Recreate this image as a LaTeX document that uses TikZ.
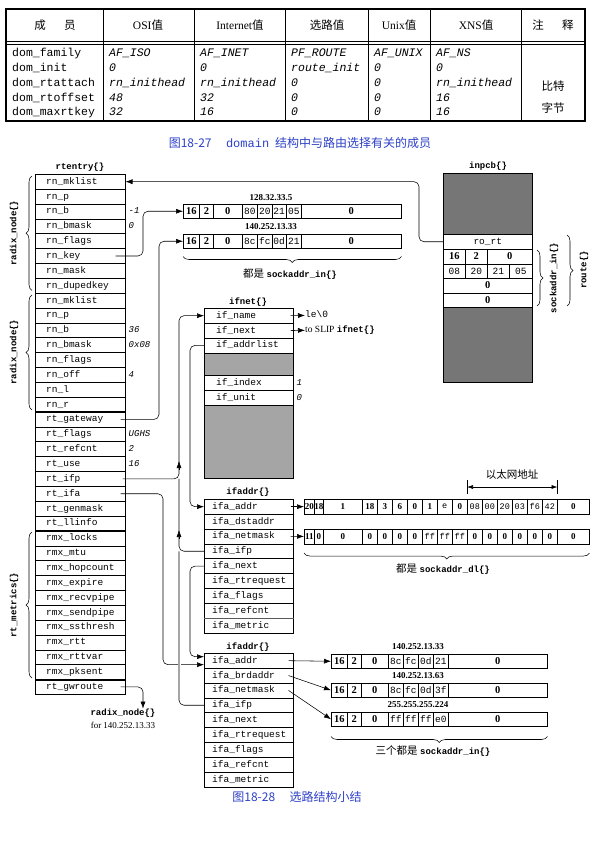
\documentclass[tikz,border=0pt]{standalone}
\usepackage{fontspec}
\setmainfont{Liberation Serif}
\setmonofont{Liberation Mono}
\newfontfamily\cjk{Noto Sans CJK SC}
\usetikzlibrary{arrows.meta,calc,decorations.pathreplacing}
\definecolor{capblue}{RGB}{45,65,200}
\definecolor{shadeA}{RGB}{118,118,118}
\definecolor{shadeB}{RGB}{165,165,165}
\newcommand\ftt{\fontsize{9.5}{11}\ttfamily}
\newcommand\fttb{\fontsize{9}{11}\ttfamily\bfseries}
\newcommand\hx{\fontsize{9.5}{11}\ttfamily\mdseries}
\newcommand\hxs{\fontsize{8.5}{10}\ttfamily\mdseries}
\tikzset{
  rowbox/.style={draw, line width=0.5pt, minimum height=14.86pt, inner sep=0pt, anchor=north west},
  rowtxt/.style={anchor=west, inner sep=0pt, font=\ftt, text height=6.5pt, text depth=1.5pt},
  valtxt/.style={anchor=west, inner sep=0pt, font=\fontsize{9}{11}\ttfamily\itshape, text height=6.5pt, text depth=1.5pt},
  ttl/.style={font=\fttb, inner sep=0pt},
  conn/.style={line width=0.55pt, rounded corners=5pt},
  arr/.style={-{Latex[length=7pt,width=5pt]}},
  cell/.style={draw, line width=0.5pt, inner sep=0pt, font=\fontsize{10.5}{12}\selectfont\bfseries},
  brc/.style={decorate, decoration={brace, amplitude=6pt}, line width=0.55pt},
  shadeboxA/.style={draw, line width=0.5pt, fill=shadeA, inner sep=0pt, anchor=north west, minimum width=89pt},
  shadeboxB/.style={draw, line width=0.5pt, fill=shadeB, inner sep=0pt, anchor=north west, minimum width=89pt},
  tbm/.style={anchor=base west, inner sep=0pt, font=\fontsize{11.5}{13}\ttfamily},
  tbi/.style={anchor=base west, inner sep=0pt, font=\fontsize{11.5}{13}\ttfamily\itshape},
  hdr/.style={inner sep=0pt, font=\fontsize{11.5}{13}\selectfont},
  ipl/.style={inner sep=0pt, font=\fontsize{9}{10}\selectfont\bfseries},
}
\newcommand\cellrow[5][]{%
  \foreach \xa/\xb/\tx [count=\k] in {#5}{%
    \pgfmathsetmacro\cw{\xb-\xa}%
    \node[cell,#1,minimum width=\cw pt,minimum height=#4pt,anchor=north west] (#2\k) at (\xa,#3) {\tx};
  }}
\begin{document}
\begin{tikzpicture}[x=1pt,y=-1pt]
\useasboundingbox (0,0) rectangle (595,842);
\fill[white] (0,0) rectangle (595,842);

% ---------------- table ----------------
\draw[line width=1.1pt] (6,9) rectangle (585,121);
\draw[line width=0.5pt] (6,41) -- (585,41) (6,44) -- (585,44);
\foreach \x in {103,194,285,368,430,521} \draw[line width=0.6pt] (\x,9) -- (\x,121);
\node[hdr] (h1) at (55,25) {\cjk 成\hspace{1.6em}员};
\node[hdr] (h2) at (148,25) {OSI{\cjk 值}};
\node[hdr] (h3) at (240,25) {Internet{\cjk 值}};
\node[hdr] (h4) at (327,25) {\cjk 选路值};
\node[hdr] (h5) at (399,25) {Unix{\cjk 值}};
\node[hdr] (h6) at (476,25) {XNS{\cjk 值}};
\node[hdr] (h7) at (553,25) {\cjk 注\hspace{1.6em}释};
\foreach \tx [count=\i] in {dom\_family,dom\_init,dom\_rtattach,dom\_rtoffset,dom\_maxrtkey}
  \node[tbm] (ta\i) at (12,{57+(\i-1)*14.7}) {\tx};
\foreach \tx [count=\i] in {AF\_ISO,0,rn\_inithead,48,32}
  \node[tbi] (tb\i) at (109,{57+(\i-1)*14.7}) {\tx};
\foreach \tx [count=\i] in {AF\_INET,0,rn\_inithead,32,16}
  \node[tbi] (tc\i) at (200,{57+(\i-1)*14.7}) {\tx};
\foreach \tx [count=\i] in {PF\_ROUTE,route\_init,0,0,0}
  \node[tbi] (td\i) at (291,{57+(\i-1)*14.7}) {\tx};
\foreach \tx [count=\i] in {AF\_UNIX,0,0,0,0}
  \node[tbi] (te\i) at (374,{57+(\i-1)*14.7}) {\tx};
\foreach \tx [count=\i] in {AF\_NS,0,rn\_inithead,16,16}
  \node[tbi] (tf\i) at (436,{57+(\i-1)*14.7}) {\tx};
\node[hdr] (tg1) at (553,86) {\cjk 比特};
\node[hdr] (tg2) at (553,108) {\cjk 字节};
\node[anchor=base, text=capblue, inner sep=0pt, font=\fontsize{12}{14}\selectfont] (cap1) at (300,148)
  {{\cjk 图18-27}\hspace{1.2em}{\ttfamily domain}\hspace{0.5em}{\cjk 结构中与路由选择有关的成员}};

% ---------------- rtentry ----------------
\node[ttl] (trt) at (80,167) {rtentry\{\}};
\foreach \tx [count=\i] in {rn\_mklist,rn\_p,rn\_b,rn\_bmask,rn\_flags,rn\_key,rn\_mask,rn\_dupedkey,
  rn\_mklist,rn\_p,rn\_b,rn\_bmask,rn\_flags,rn\_off,rn\_l,rn\_r,
  rt\_gateway,rt\_flags,rt\_refcnt,rt\_use,rt\_ifp,rt\_ifa,rt\_genmask,rt\_llinfo,
  rmx\_locks,rmx\_mtu,rmx\_hopcount,rmx\_expire,rmx\_recvpipe,rmx\_sendpipe,rmx\_ssthresh,rmx\_rtt,rmx\_rttvar,rmx\_pksent,
  rt\_gwroute}{
  \node[rowbox, minimum width=90pt] (r\i) at (35,{174+(\i-1)*14.86}) {};
  \node[rowtxt] (rt\i) at ([xshift=11pt]r\i.west) {\tx};
}
\foreach \k in {8,16,24,34} \draw[line width=1.6pt] (r\k.south west) -- (r\k.south east);
\foreach \k/\v in {3/-1,4/0,11/36,12/0x08,14/4,18/UGHS,19/2,20/16}
  \node[valtxt] (v\k) at ([xshift=3pt]r\k.east) {\v};

\draw[brc] (32,290.5) -- (32,176);
\draw[brc] (32,410) -- (32,295);
\draw[brc] (32,678) -- (32,532);
\node[ttl, rotate=90] (lrn1) at (14,233) {radix\_node\{\}};
\node[ttl, rotate=90] (lrn2) at (14,352) {radix\_node\{\}};
\node[ttl, rotate=90] (lrm) at (14,605) {rt\_metrics\{\}};

\node[ttl] (gw) at (123,713) {radix\_node\{\}};
\node[inner sep=0pt, font=\fontsize{9}{11}\selectfont] (gwf) at (123,725) {for 140.252.13.33};

% ---------------- top sockaddr_in ----------------
\node[ipl] (ipa) at (271,198) {128.32.33.5};
\node[ipl] (ipb) at (271,227) {140.252.13.33};
\cellrow{saA}{204}{14}{183/199.3/16, 199.3/213.3/2, 213.3/241.7/0, 241.7/257.3/{\hx 80}, 257.3/271.7/{\hx 20}, 271.7/286/{\hx 21}, 286/301/{\hx 05}, 301/401/0}
\cellrow{saB}{234}{14}{183/199.3/16, 199.3/213.3/2, 213.3/241.7/0, 241.7/257.3/{\hx 8c}, 257.3/271.7/{\hx fc}, 271.7/286/{\hx 0d}, 286/301/{\hx 21}, 301/401/0}
\draw[brc] ($(saB8.south east)+(0,8)$) -- ($(saB1.south west)+(0,8)$);
\node[inner sep=0pt] (bsa) at (290,274) {{\cjk\fontsize{10.5}{12}\selectfont 都是} {\fttb sockaddr\_in\{\}}};

% ---------------- inpcb ----------------
\node[ttl] (tpcb) at (488,166) {inpcb\{\}};
\node[shadeboxA, minimum height=61pt] (pcbt) at (443,173) {};
\node[rowbox, minimum width=89pt, minimum height=15pt, font=\ftt] (ro) at (443,234) {ro\_rt};
\cellrow{pa}{249}{14.5}{443/465/16, 465/487/2, 487/532/0}
\cellrow{pb}{263.5}{14.5}{443/465/{\hx 08}, 465/487/{\hx 20}, 487/509/{\hx 21}, 509/532/{\hx 05}}
\cellrow{pc}{278}{14.5}{443/532/0}
\cellrow{pd}{292.5}{14.5}{443/532/0}
\node[shadeboxA, minimum height=75pt] (pcbb) at (443,307) {};
\draw[brc] (537,250) -- (537,306);
\draw[brc] (567,235) -- (567,306);
\node[ttl, rotate=90] (lsin) at (554,278) {sockaddr\_in\{\}};
\node[ttl, rotate=90] (lrte) at (584,270) {route\{\}};

% ---------------- ifnet ----------------
\node[ttl] (tifn) at (248,302) {ifnet\{\}};
\foreach \tx [count=\i] in {if\_name,if\_next,if\_addrlist}{
  \node[rowbox, minimum width=89pt] (n\i) at (204,{308+(\i-1)*14.86}) {};
  \node[rowtxt] (nt\i) at ([xshift=12pt]n\i.west) {\tx};
}
\node[shadeboxB, minimum height=22.4pt] (ns1) at (204,352.6) {};
\foreach \tx [count=\i from 4] in {if\_index,if\_unit}{
  \node[rowbox, minimum width=89pt] (n\i) at (204,{375+(\i-4)*14.86}) {};
  \node[rowtxt] (nt\i) at ([xshift=12pt]n\i.west) {\tx};
}
\node[shadeboxB, minimum height=73.3pt] (ns2) at (204,404.7) {};
\node[valtxt] (vn4) at ([xshift=3pt]n4.east) {1};
\node[valtxt] (vn5) at ([xshift=3pt]n5.east) {0};
\node[rowtxt] (le) at (305,315.4) {le\textbackslash0};
\node[anchor=west, inner sep=0pt, font=\fontsize{9.5}{11}\selectfont] (slip) at (305,330.3) {to SLIP {\fttb ifnet\{\}}};

% ---------------- ifaddr #1 ----------------
\node[ttl] (tia1) at (248,492) {ifaddr\{\}};
\foreach \tx [count=\i] in {ifa\_addr,ifa\_dstaddr,ifa\_netmask,ifa\_ifp,ifa\_next,ifa\_rtrequest,ifa\_flags,ifa\_refcnt,ifa\_metric}{
  \node[rowbox, minimum width=89pt] (a\i) at (204,{499+(\i-1)*14.86}) {};
  \node[rowtxt] (at\i) at ([xshift=8pt]a\i.west) {\tx};
}
\draw[line width=1.4pt, gray!70!black] (a8.south west) -- (a8.south east);

\cellrow[font=\fontsize{9}{10}\selectfont\bfseries]{dA}{499}{14.86}{304/314/20, 314/323/18, 323/362/1, 362/377/18, 377/392/3, 392/407/6, 407/422/0, 422/437/1, 437/452/{\hxs e}, 452/467/0, 467/482/{\hxs 08}, 482/497/{\hxs 00}, 497/512/{\hxs 20}, 512/527/{\hxs 03}, 527/542/{\hxs f6}, 542/557/{\hxs 42}, 557/589/0}
\cellrow[font=\fontsize{9}{10}\selectfont\bfseries]{dB}{528.7}{14.86}{304/314/11, 314/323/0, 323/362/0, 362/377/0, 377/392/0, 392/407/0, 407/422/0, 422/437/{\hxs ff}, 437/452/{\hxs ff}, 452/467/{\hxs ff}, 467/482/0, 482/497/0, 497/512/0, 512/527/0, 527/542/0, 542/557/0, 557/589/0}
\draw[{Latex[length=6pt,width=4pt]}-{Latex[length=6pt,width=4pt]}, line width=0.55pt] ($(dA11.north west)+(0,-12)$) -- ($(dA16.north east)+(0,-12)$);
\draw[line width=0.55pt] ($(dA11.north west)+(0,-19)$) -- ($(dA11.north west)+(0,-5)$);
\draw[line width=0.55pt] ($(dA16.north east)+(0,-19)$) -- ($(dA16.north east)+(0,-5)$);
\node[inner sep=0pt, font=\fontsize{10.5}{12}\selectfont] (eth) at (512,475) {\cjk 以太网地址};
\draw[brc] ($(dB17.south east)+(0,9)$) -- ($(dB1.south west)+(0,9)$);
\node[inner sep=0pt] (bdl) at (443,569) {{\cjk\fontsize{10.5}{12}\selectfont 都是} {\fttb sockaddr\_dl\{\}}};

% ---------------- ifaddr #2 ----------------
\node[ttl] (tia2) at (248,647) {ifaddr\{\}};
\foreach \tx [count=\i] in {ifa\_addr,ifa\_brdaddr,ifa\_netmask,ifa\_ifp,ifa\_next,ifa\_rtrequest,ifa\_flags,ifa\_refcnt,ifa\_metric}{
  \node[rowbox, minimum width=89pt] (b\i) at (204,{653+(\i-1)*14.86}) {};
  \node[rowtxt] (bt\i) at ([xshift=8pt]b\i.west) {\tx};
}
\node[ipl] (ipc) at (418,647) {140.252.13.33};
\node[ipl] (ipd) at (418,676) {140.252.13.63};
\node[ipl] (ipe) at (418,704.5) {255.255.255.224};
\cellrow{iA}{654}{14}{331/347/16, 347/361/2, 361/388/0, 388/403/{\hx 8c}, 403/418/{\hx fc}, 418/433/{\hx 0d}, 433/448/{\hx 21}, 448/547/0}
\cellrow{iB}{683}{14}{331/347/16, 347/361/2, 361/388/0, 388/403/{\hx 8c}, 403/418/{\hx fc}, 418/433/{\hx 0d}, 433/448/{\hx 3f}, 448/547/0}
\cellrow{iC}{712}{14}{331/347/16, 347/361/2, 361/388/0, 388/403/{\hx ff}, 403/418/{\hx ff}, 418/433/{\hx ff}, 433/448/{\hx e0}, 448/547/0}
\draw[brc] ($(iC8.south east)+(0,10)$) -- ($(iC1.south west)+(0,10)$);
\node[inner sep=0pt] (bin) at (433,751) {{\cjk\fontsize{10.5}{12}\selectfont 三个都是} {\fttb sockaddr\_in\{\}}};

\node[anchor=base, text=capblue, inner sep=0pt, font=\fontsize{12}{14}\selectfont] (cap2) at (297,801)
  {{\cjk 图18-28}\hspace{1.2em}{\cjk 选路结构小结}};

% ---------------- connectors ----------------
\coordinate (xA) at (419,0);
\coordinate (xB) at (143,0);
\coordinate (xC) at (159,0);
\coordinate (xD) at (179,0);
\coordinate (xE) at (190,0);
\coordinate (xF) at (163,0);
\draw[conn,arr] (ro.west) -| (xA |- r1.east) -- (r1.east);
\draw[conn,arr] ($(r6.east)+(-10,0)$) -| (xB |- saA1.west) -- (saA1.west);
\draw[conn,arr] ($(r17.east)+(-5,0)$) -| (xC |- saB1.west) -- (saB1.west);
\draw[conn,arr] ($(r21.east)+(-3,0)$) -| (xD |- n1.west) -- (n1.west);
\draw[conn] (a4.west) -| (xD |- r21.east);
\draw[arr, line width=0.55pt] (179,470) -- (179,461);
\draw[arr, line width=0.55pt] (179,539) -- (179,530);
\draw[conn,arr] (n3.west) -| (xE |- a1.west) -- (a1.west);
\draw[conn,arr] (a5.west) -| ($(xE |- b1.west)+(0,-4)$) -- ($(b1.west)+(0,-4)$);
\draw[conn,arr] ($(r22.east)+(-5,0)$) -| ($(xF |- b1.west)+(0,4)$) -- ($(b1.west)+(0,4)$);
\draw[white, line width=3pt] (179,657) -- (179,671);
\draw[conn] (b4.west) -| (xD |- a4.west);
\draw[conn,arr] ($(r35.east)+(-5,0)$) -| ([xshift=20pt]gw.north);
\draw[arr, line width=0.55pt] ($(n1.east)+(-3,0)$) -- (le.west);
\draw[arr, line width=0.55pt] ($(n2.east)+(-3,0)$) -- (slip.west);
\draw[arr, line width=0.55pt] ($(a1.east)+(-3,0)$) -- (dA1.west);
\draw[arr, line width=0.55pt] ($(a3.east)+(-3,0)$) -- (dB1.west);
\draw[arr, line width=0.55pt] ($(b1.east)+(-5,0)$) -- (iA1.west);
\draw[arr, line width=0.55pt] ($(b2.east)+(-5,0)$) -- (iB1.west);
\draw[arr, line width=0.55pt] ($(b3.east)+(-5,0)$) -- (iC1.west);
\end{tikzpicture}
\end{document}
